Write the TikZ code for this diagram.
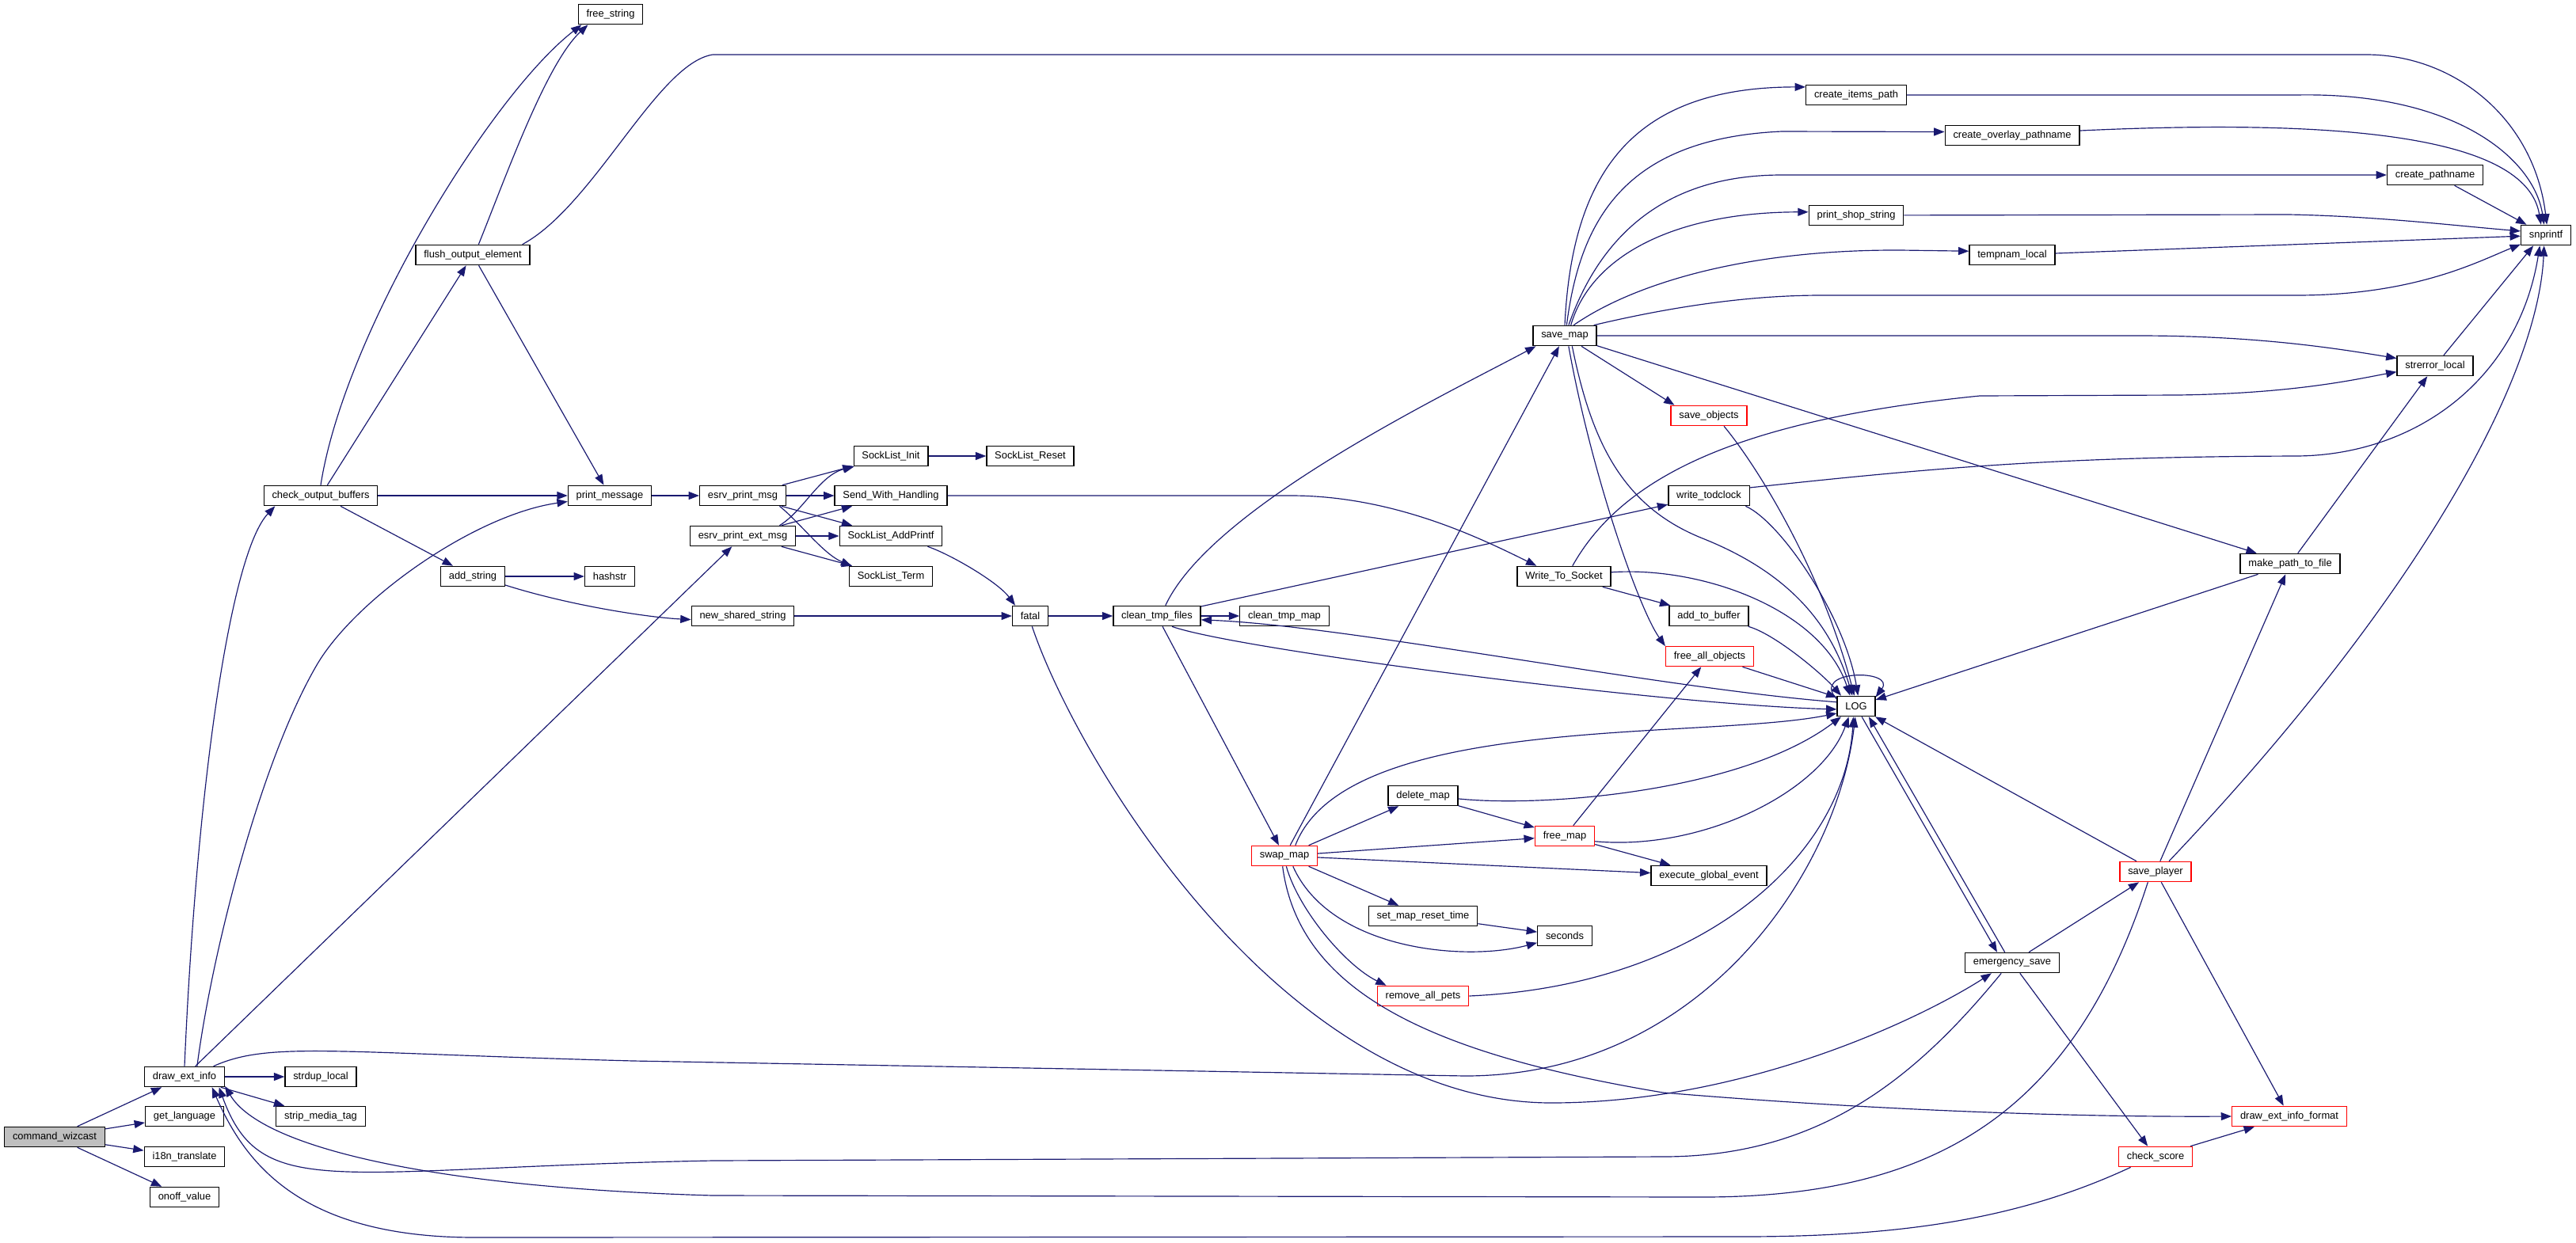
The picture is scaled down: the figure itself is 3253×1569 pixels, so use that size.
\documentclass[tikz,border=0pt]{standalone}
\usepackage{fontspec}
\setmainfont{Liberation Sans}
\usetikzlibrary{arrows.meta}

\definecolor{edgeblue}{HTML}{191970}
\definecolor{rootgray}{HTML}{BFBFBF}

\tikzset{
  fn/.style={draw=black, line width=1.1pt, fill=white, minimum height=7.6mm,
    inner xsep=3.1mm, inner ysep=0pt, font=\fontsize{11}{13}\selectfont},
  trunc/.style={fn, draw=red},
  call/.style={-{Triangle[length=4mm,width=3mm]}, draw=edgeblue, line width=1pt},
}

\begin{document}
\begin{tikzpicture}[x=0.3mm, y=-0.3mm]

  \useasboundingbox (0,0) rectangle (3253,1569);

  %% Functions

  % left columns
  \node[fn, fill=rootgray] (cw) at (69,1436) {command\_wizcast};
  \node[fn] (dei) at (233,1360) {draw\_ext\_info};
  \node[fn] (gl) at (233,1410) {get\_language};
  \node[fn] (i18n) at (233,1461) {i18n\_translate};
  \node[fn] (ov) at (233,1512) {onoff\_value};
  \node[fn] (sdl) at (405,1360) {strdup\_local};
  \node[fn] (smt) at (405,1410) {strip\_media\_tag};
  \node[fn] (cob) at (405,626) {check\_output\_buffers};
  \node[fn] (foe) at (597,322) {flush\_output\_element};
  \node[fn] (fs) at (771,18) {free\_string};
  \node[fn] (pm) at (770,626) {print\_message};
  \node[fn] (as) at (597,728) {add\_string};
  \node[fn] (hs) at (770,728) {hashstr};
  \node[fn] (epm) at (938,626) {esrv\_print\_msg};
  \node[fn] (epem) at (938,677) {esrv\_print\_ext\_msg};
  \node[fn] (nss) at (938,778) {new\_shared\_string};
  \node[fn] (sli) at (1125,576) {SockList\_Init};
  \node[fn] (slr) at (1301,576) {SockList\_Reset};
  \node[fn] (swh) at (1125,626) {Send\_With\_Handling};
  \node[fn] (slap) at (1125,677) {SockList\_AddPrintf};
  \node[fn] (slt) at (1125,728) {SockList\_Term};
  \node[fn] (fatal) at (1301,778) {fatal};
  \node[fn] (ctf) at (1461,778) {clean\_tmp\_files};
  \node[fn] (ctm) at (1622,778) {clean\_tmp\_map};

  % middle columns
  \node[fn] (sm) at (1976,424) {save\_map};
  \node[trunc] (swm) at (1622,1081) {swap\_map};
  \node[fn] (cip) at (2344,120) {create\_items\_path};
  \node[fn] (pss) at (2344,272) {print\_shop\_string};
  \node[trunc] (so) at (2158,525) {save\_objects};
  \node[fn] (wtc) at (2158,626) {write\_todclock};
  \node[fn] (wts) at (1975,728) {Write\_To\_Socket};
  \node[fn] (atb) at (2158,778) {add\_to\_buffer};
  \node[trunc] (fao) at (2159,829) {free\_all\_objects};
  \node[fn] (LOG) at (2344,892) {LOG};
  \node[fn] (dm) at (1797,1005) {delete\_map};
  \node[trunc] (fm) at (1976,1056) {free\_map};
  \node[fn] (ege) at (2158,1106) {execute\_global\_event};
  \node[fn] (smrt) at (1797,1157) {set\_map\_reset\_time};
  \node[fn] (sec) at (1976,1182) {seconds};
  \node[trunc] (rap) at (1797,1258) {remove\_all\_pets};

  % right columns
  \node[fn] (cop) at (2541,171) {create\_overlay\_pathname};
  \node[fn] (tl) at (2541,322) {tempnam\_local};
  \node[fn] (es) at (2541,1216) {emergency\_save};
  \node[fn] (cpn) at (3075,221) {create\_pathname};
  \node[fn] (snp) at (3215,297) {snprintf};
  \node[fn] (sel) at (3075,462) {strerror\_local};
  \node[fn] (mptf) at (2892,712) {make\_path\_to\_file};
  \node[trunc] (sp) at (2722,1101) {save\_player};
  \node[trunc] (cs) at (2722,1461) {check\_score};
  \node[trunc] (deif) at (2891,1410) {draw\_ext\_info\_format};

  %% Calls

  % command_wizcast
  \draw[call] (cw) -- (dei);
  \draw[call] (cw) -- (gl);
  \draw[call] (cw) -- (i18n);
  \draw[call] (cw) -- (ov);

  % draw_ext_info
  \draw[call] (dei) -- (sdl);
  \draw[call] (dei) -- (smt);
  \draw[call] (dei.north) .. controls (248,1000) and (290,700) .. (cob.193);
  \draw[call] (dei.40) .. controls (268,1200) and (330,960) .. (400,840) .. controls (449,756) and (600,650) .. (pm.188);
  \draw[call] (dei) -- (epem);
  \draw[call] (dei.20) .. controls (340,1315) and (420,1330) .. (800,1340) -- (1850,1359) .. controls (2150,1359) and (2320,1100) .. (LOG.265);

  % check_output_buffers, flush_output_element
  \draw[call] (cob.north) .. controls (435,420) and (620,120) .. (fs.200);
  \draw[call] (cob) -- (foe);
  \draw[call] (cob) -- (pm);
  \draw[call] (cob) -- (as);
  \draw[call] (foe.61) .. controls (640,220) and (690,80) .. (fs.205);
  \draw[call] (foe) -- (pm);
  \draw[call] (foe.12) .. controls (750,260) and (830,80) .. (900,69) -- (2990,69) .. controls (3100,70) and (3200,150) .. (snp.85);

  % print_message, add_string
  \draw[call] (pm) -- (epm);
  \draw[call] (as) -- (hs);
  \draw[call] (as.-15) .. controls (720,765) and (820,780) .. (nss.184);

  % esrv_print_msg, esrv_print_ext_msg
  \draw[call] (epm) -- (sli);
  \draw[call] (epm) -- (swh);
  \draw[call] (epm) -- (slap);
  \draw[call] (epm.-16) .. controls (1010,660) and (1040,700) .. (slt.165);
  \draw[call] (epem.16) .. controls (1015,645) and (1035,600) .. (sli.196);
  \draw[call] (epem) -- (swh);
  \draw[call] (epem) -- (slap);
  \draw[call] (epem) -- (slt);
  \draw[call] (sli) -- (slr);
  \draw[call] (swh) -- (1630,626) .. controls (1760,626) and (1870,680) .. (wts.159);
  \draw[call] (slap.-16) .. controls (1200,700) and (1260,735) .. (fatal.145);
  \draw[call] (nss) -- (fatal);

  % fatal
  \draw[call] (fatal) -- (ctf);
  \draw[call] (fatal.-80) .. controls (1360,960) and (1620,1393) .. (1959,1393) .. controls (2200,1393) and (2420,1290) .. (es.207);

  % clean_tmp_files
  \draw[call] (ctf.51) .. controls (1530,640) and (1824,499) .. (sm.200);
  \draw[call] (ctf) -- (ctm);
  \draw[call] (ctf) -- (wtc);
  \draw[call] (ctf.-35) .. controls (1560,820) and (2100,890) .. (LOG.189);
  \draw[call] (ctf) -- (swm);

  % save_map
  \draw[call] (sm.north) .. controls (1985,220) and (2060,110) .. (cip.171);
  \draw[call] (sm.80) .. controls (1995,280) and (2050,175) .. (2250,166) -- (cop.177);
  \draw[call] (sm.70) .. controls (2020,300) and (2100,221) .. (2250,221) -- (cpn);
  \draw[call] (sm.60) .. controls (2010,320) and (2120,268) .. (pss.176);
  \draw[call] (sm.50) .. controls (2060,360) and (2200,315) .. (2400,316) -- (tl.175);
  \draw[call] (sm.20) .. controls (2100,390) and (2200,373) .. (2300,373) -- (2900,373) .. controls (3050,373) and (3130,330) .. (snp.200);
  \draw[call] (sm) -- (2700,424) .. controls (2850,424) and (2950,440) .. (sel.169);
  \draw[call] (sm) -- (mptf);
  \draw[call] (sm) -- (so.163);
  \draw[call] (sm.-70) .. controls (2010,600) and (2070,770) .. (fao.167);
  \draw[call] (sm.-55) .. controls (2010,560) and (2050,640) .. (2150,680) .. controls (2250,720) and (2310,780) .. (LOG.110);

  % swap_map
  \draw[call] (swm) -- (sm);
  \draw[call] (swm.44) .. controls (1700,900) and (2150,935) .. (LOG.200);
  \draw[call] (swm) -- (dm);
  \draw[call] (swm) -- (fm);
  \draw[call] (swm) -- (ege);
  \draw[call] (swm) -- (smrt);
  \draw[call] (swm.-51) .. controls (1680,1200) and (1850,1215) .. (sec.194);
  \draw[call] (swm.-80) .. controls (1640,1150) and (1700,1220) .. (rap.164);
  \draw[call] (swm.-100) .. controls (1640,1250) and (1800,1330) .. (2100,1380) .. controls (2400,1405) and (2650,1411) .. (deif.west);

  % delete_map, free_map, set_map_reset_time, remove_all_pets
  \draw[call] (dm.-5) .. controls (1950,1020) and (2200,1000) .. (LOG.215);
  \draw[call] (dm) -- (fm);
  \draw[call] (fm) -- (fao);
  \draw[call] (fm.-10) .. controls (2150,1075) and (2300,1000) .. (LOG.235);
  \draw[call] (fm) -- (ege);
  \draw[call] (smrt) -- (sec);
  \draw[call] (rap.east) .. controls (2150,1245) and (2330,1080) .. (LOG.255);

  % LOG
  \draw[call] (LOG.160) .. controls (2285,845) and (2395,845) .. (LOG.25);
  \draw[call] (LOG.168) .. controls (2100,870) and (1700,790) .. (ctf.-5);
  \draw[call] (LOG.-62) -- (es.145);

  % Write_To_Socket, write_todclock and the rest of LOG's callers
  \draw[call] (wts.51) .. controls (2050,600) and (2200,530) .. (2500,500) -- (2750,499) .. controls (2900,497) and (2980,478) .. (sel.189);
  \draw[call] (wts.5) .. controls (2150,715) and (2300,770) .. (LOG.120);
  \draw[call] (wts) -- (atb);
  \draw[call] (atb.-15) .. controls (2240,800) and (2300,850) .. (LOG.145);
  \draw[call] (fao) -- (LOG.155);
  \draw[call] (so.-35) .. controls (2220,590) and (2300,720) .. (LOG.100);
  \draw[call] (wtc.11) .. controls (2450,590) and (2600,577) .. (2900,576) .. controls (3050,575) and (3180,480) .. (snp.-120);
  \draw[call] (wtc.-16) .. controls (2250,660) and (2330,780) .. (LOG.80);

  % emergency_save, save_player, check_score
  \draw[call] (es.125) -- (LOG.-40);
  \draw[call] (es) -- (sp);
  \draw[call] (es) -- (cs);
  \draw[call] (es.224) .. controls (2420,1360) and (2300,1461) .. (2100,1461) -- (900,1466) .. controls (420,1475) and (330,1520) .. (dei.-17);
  \draw[call] (sp) -- (LOG);
  \draw[call] (sp) -- (deif);
  \draw[call] (sp) -- (mptf);
  \draw[call] (sp.38) .. controls (3050,760) and (3205,480) .. (snp.-100);
  \draw[call] (sp.234) .. controls (2620,1400) and (2450,1512) .. (2150,1512) -- (900,1510) .. controls (550,1500) and (330,1450) .. (dei.-13);
  \draw[call] (cs) -- (deif);
  \draw[call] (cs.203) .. controls (2550,1540) and (2400,1562) .. (2200,1562) -- (600,1563) .. controls (380,1563) and (310,1470) .. (dei.-21);

  % make_path_to_file and snprintf's callers
  \draw[call] (mptf) -- (sel);
  \draw[call] (mptf) -- (LOG);
  \draw[call] (sel) -- (snp.-140);
  \draw[call] (cpn) -- (snp);
  \draw[call] (tl) -- (snp);
  \draw[call] (cop.4) .. controls (2950,150) and (3190,170) .. (snp.115);
  \draw[call] (cip) -- (2900,120) .. controls (3100,116) and (3200,200) .. (snp.100);
  \draw[call] (pss) -- (2890,271) .. controls (3000,273) and (3100,285) .. (snp.171);

\end{tikzpicture}
\end{document}
